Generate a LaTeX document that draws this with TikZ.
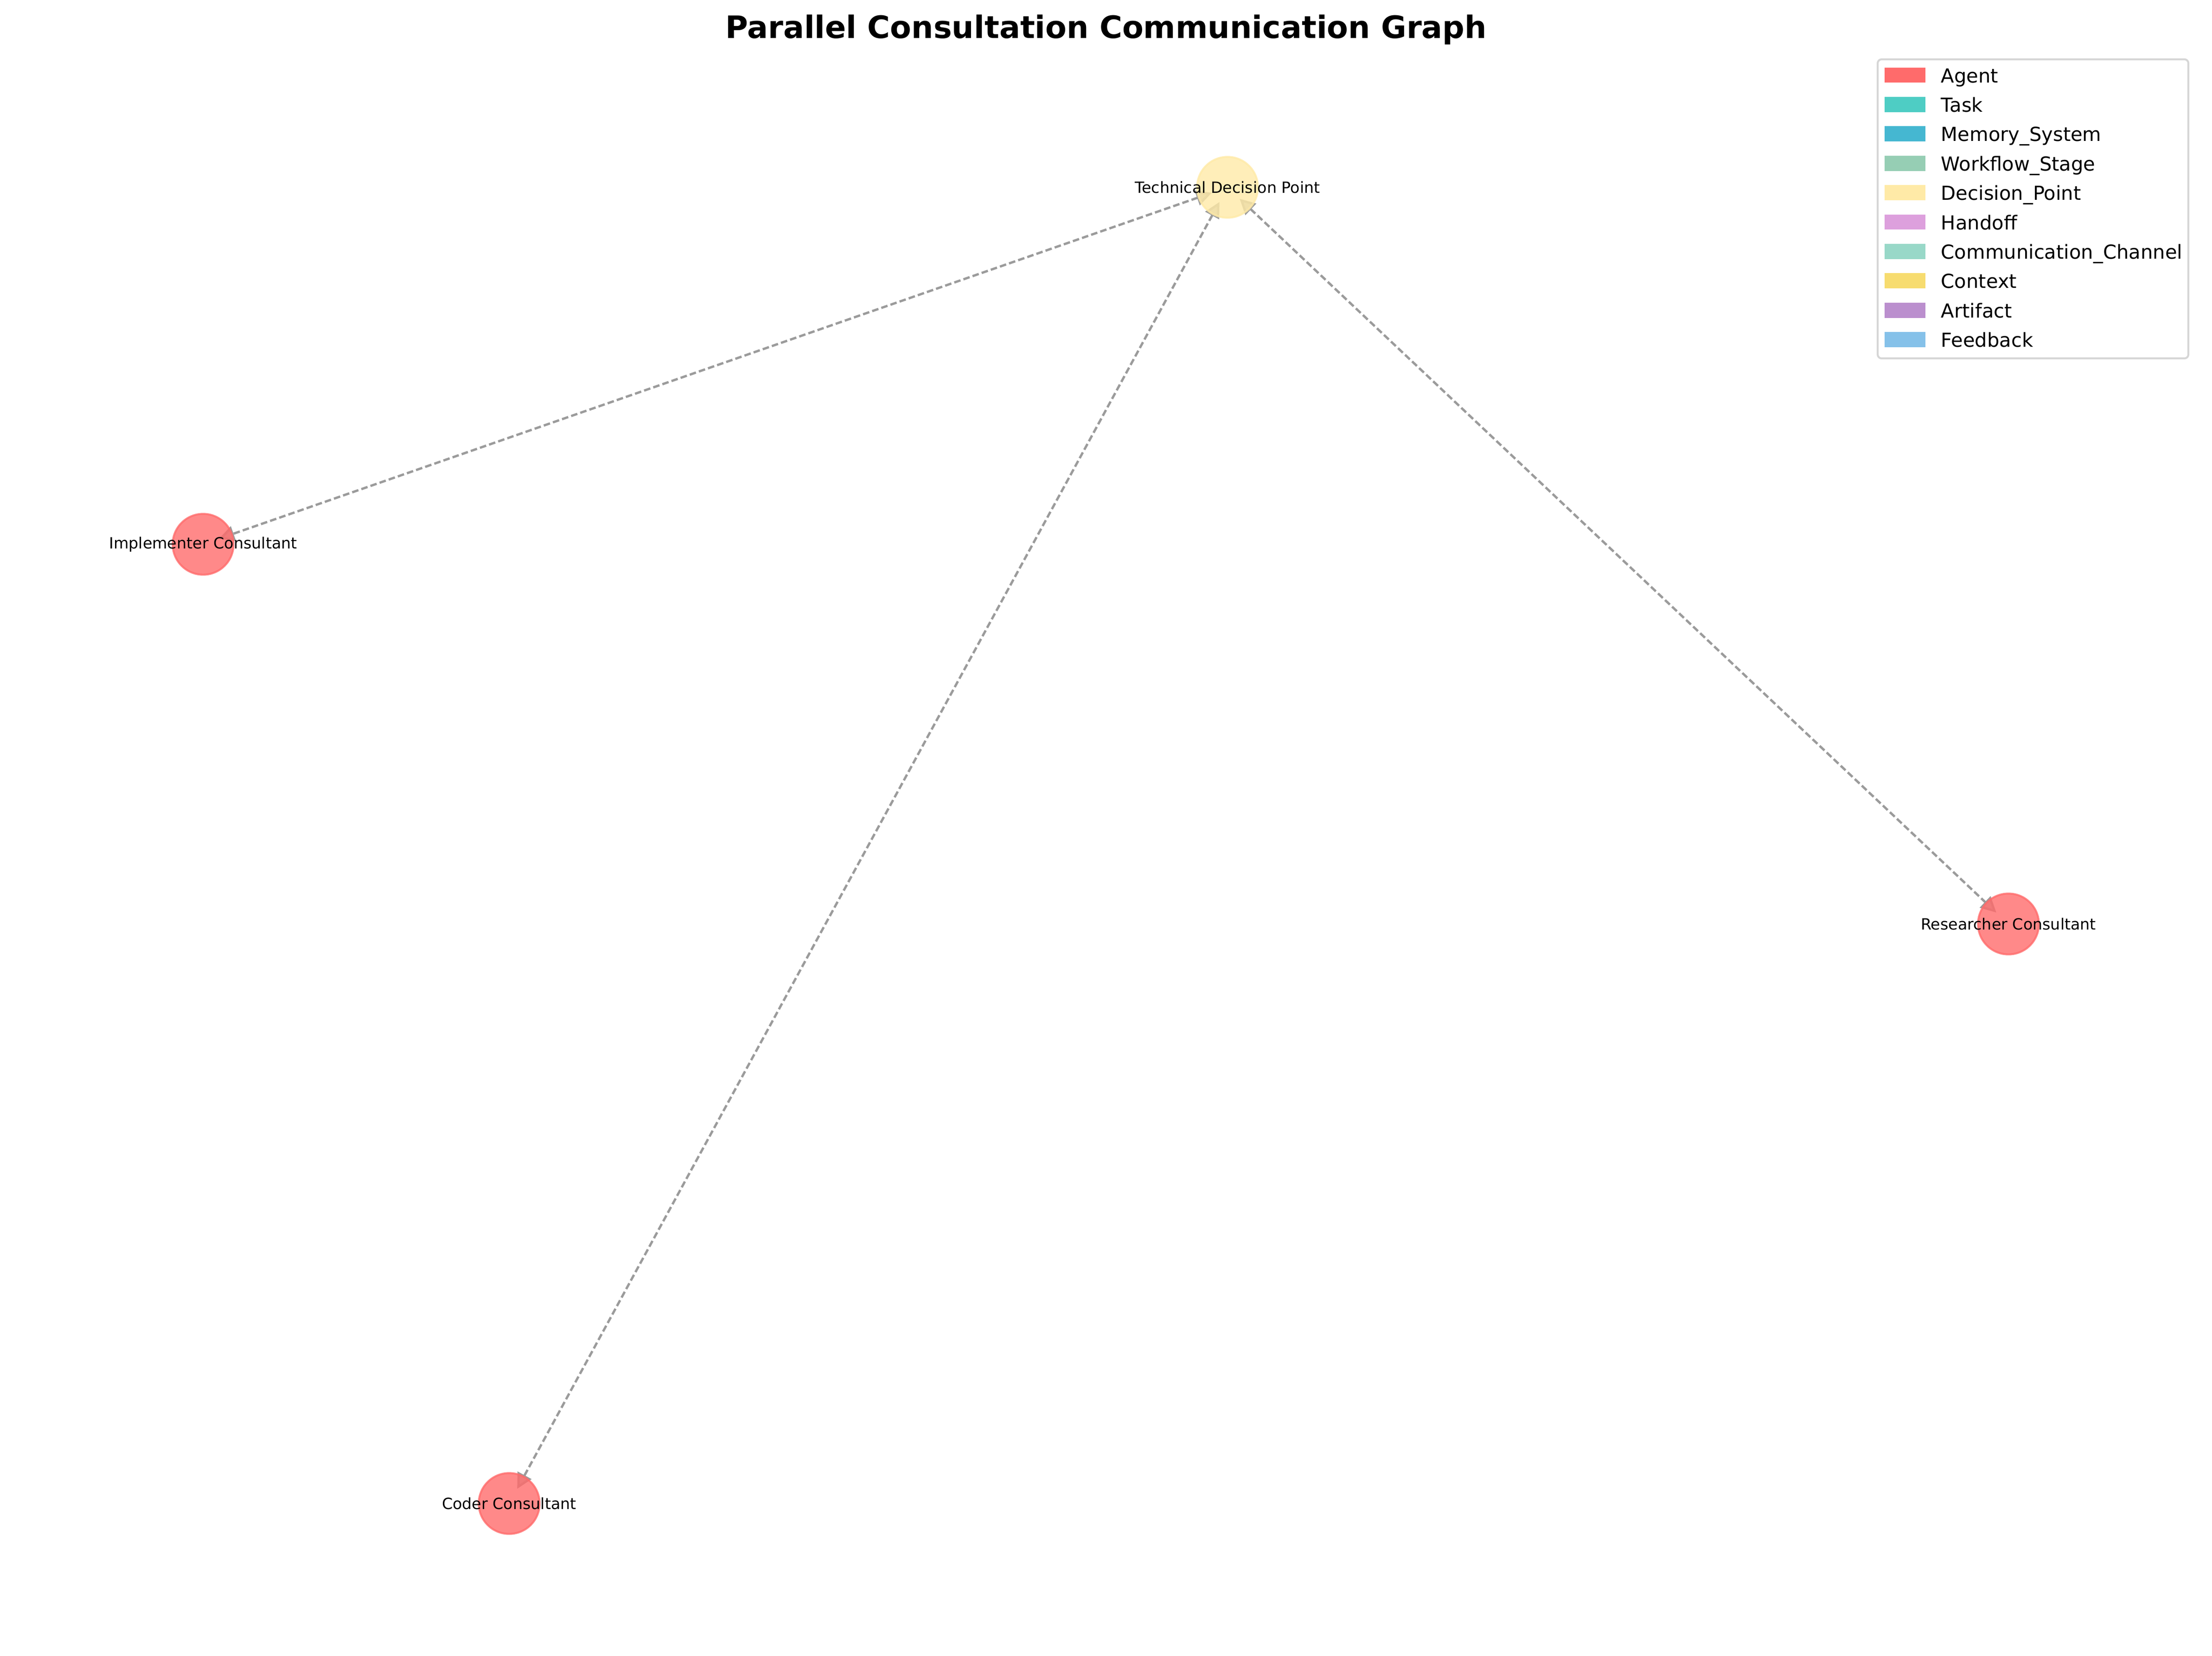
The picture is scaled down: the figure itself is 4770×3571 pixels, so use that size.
\documentclass[tikz,border=0pt]{standalone}
\usepackage{fontspec}
\setmainfont{DejaVu Sans}
\usetikzlibrary{arrows.meta,backgrounds}

\definecolor{agentred}{HTML}{FF6B6B}
\definecolor{taskteal}{HTML}{4ECDC4}
\definecolor{memblue}{HTML}{45B7D1}
\definecolor{stagegreen}{HTML}{96CEB4}
\definecolor{decyellow}{HTML}{FFEAA7}
\definecolor{handpink}{HTML}{DDA0DD}
\definecolor{chanmint}{HTML}{98D8C8}
\definecolor{ctxgold}{HTML}{F7DC6F}
\definecolor{artpurple}{HTML}{BB8FCE}
\definecolor{fbblue}{HTML}{85C1E9}
\definecolor{edgegray}{RGB}{155,155,155}
\definecolor{headgray}{RGB}{185,185,185}
\definecolor{legframe}{RGB}{214,214,214}

\begin{document}
\begin{tikzpicture}[x=0.24pt,y=-0.24pt,
    agent/.style={circle,minimum size=31.5pt,inner sep=0pt,outer sep=0pt,
        fill=agentred,draw=agentred,line width=1pt,opacity=0.8},
    decision/.style={agent,fill=decyellow,draw=decyellow},
    lbl/.style={font=\fontsize{8}{9.6}\selectfont,inner sep=0pt},
    link/.style={draw=edgegray,line width=1.2pt,dash pattern=on 3.4pt off 1.6pt,
        {Triangle[length=8pt,width=8pt,fill=headgray,line width=1.2pt]}-{Triangle[length=8pt,width=8pt,fill=headgray,line width=1.2pt]},
        shorten <=-7.1pt,shorten >=-7.1pt},
    legpatch/.style={minimum width=21pt,minimum height=7.9pt,inner sep=0pt},
    legtext/.style={anchor=base west,font=\fontsize{10}{12}\selectfont,inner sep=0pt}]
    \useasboundingbox (0,0) rectangle (4770,3571);
    % title
    \node[anchor=base,font=\fontsize{16}{19}\selectfont\bfseries] (title) at (2385,82) {Parallel Consultation Communication Graph};
    % nodes
    \node[decision] (tdp) at (2647,404) {};
    \node[agent] (impl) at (438,1174) {};
    \node[agent] (res) at (4331,1993) {};
    \node[agent] (coder) at (1098,3243) {};
    \node[lbl] (tdplbl) at (tdp) {Technical Decision Point};
    \node[lbl] (impllbl) at (impl) {Implementer Consultant};
    \node[lbl] (reslbl) at (res) {Researcher Consultant};
    \node[lbl] (coderlbl) at (coder) {Coder Consultant};
    % consultation links, under the nodes
    \begin{scope}[on background layer]
        \draw[link] (tdp) -- (impl);
        \draw[link] (tdp) -- (coder);
        \draw[link] (tdp) -- (res);
    \end{scope}
    % legend
    \draw[rounded corners=2pt,draw=legframe,fill=white,line width=1pt] (4049,128) rectangle (4719,773);
    \node[legpatch,fill=agentred] (leg1) at (4108,162) {};
    \node[legtext] (legt1) at (4185,178) {Agent};
    \node[legpatch,fill=taskteal] (leg2) at (4108,225.4) {};
    \node[legtext] (legt2) at (4185,241.4) {Task};
    \node[legpatch,fill=memblue] (leg3) at (4108,288.8) {};
    \node[legtext] (legt3) at (4185,304.8) {Memory\_System};
    \node[legpatch,fill=stagegreen] (leg4) at (4108,352.2) {};
    \node[legtext] (legt4) at (4185,368.2) {Workflow\_Stage};
    \node[legpatch,fill=decyellow] (leg5) at (4108,415.6) {};
    \node[legtext] (legt5) at (4185,431.6) {Decision\_Point};
    \node[legpatch,fill=handpink] (leg6) at (4108,479) {};
    \node[legtext] (legt6) at (4185,495) {Handoff};
    \node[legpatch,fill=chanmint] (leg7) at (4108,542.4) {};
    \node[legtext] (legt7) at (4185,558.4) {Communication\_Channel};
    \node[legpatch,fill=ctxgold] (leg8) at (4108,605.8) {};
    \node[legtext] (legt8) at (4185,621.8) {Context};
    \node[legpatch,fill=artpurple] (leg9) at (4108,669.2) {};
    \node[legtext] (legt9) at (4185,685.2) {Artifact};
    \node[legpatch,fill=fbblue] (leg10) at (4108,732.6) {};
    \node[legtext] (legt10) at (4185,748.6) {Feedback};
\end{tikzpicture}
\end{document}
